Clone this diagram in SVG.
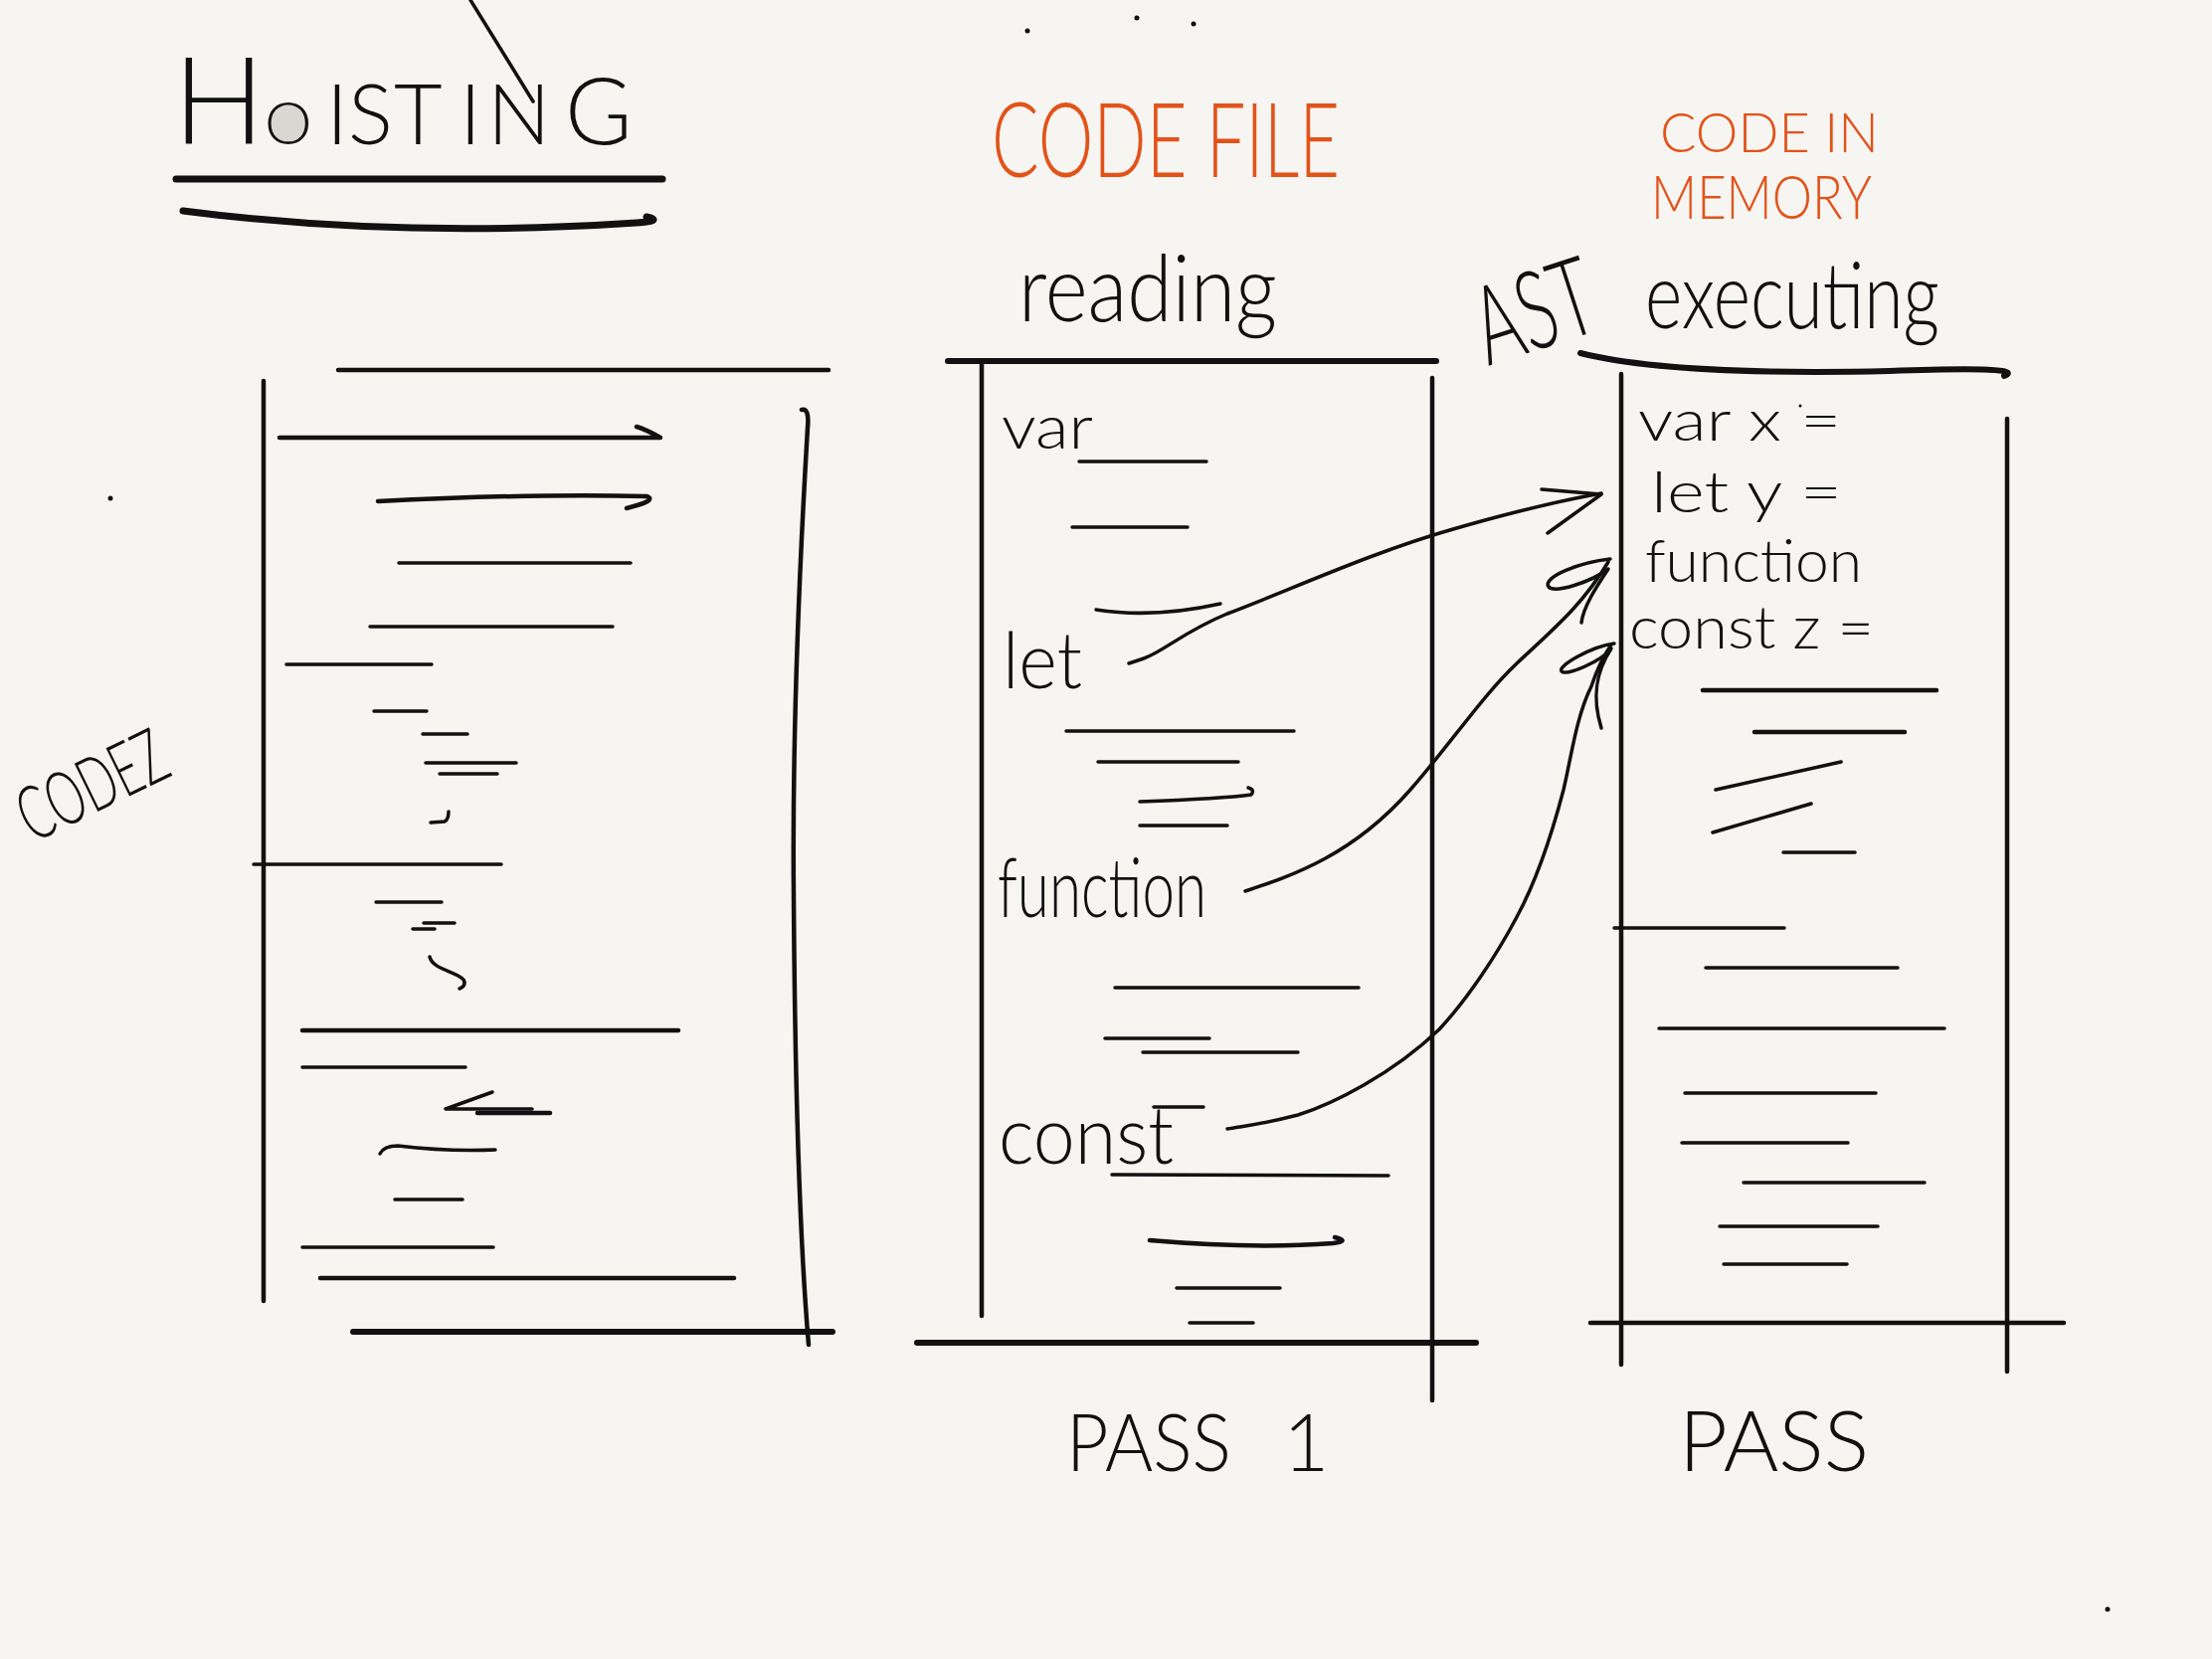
<svg xmlns="http://www.w3.org/2000/svg" width="2224" height="1668" viewBox="0 0 2224 1668">
<style>
.ink{fill:none;stroke:#111;stroke-linecap:round;stroke-linejoin:round}
.w4{stroke-width:4.5}
.w3{stroke-width:3.5}
.w6{stroke-width:6}
.t{font-family:Lato,"Open Sans","Liberation Sans",sans-serif;font-weight:300;fill:#111}
.o{font-family:Lato,"Open Sans","Liberation Sans",sans-serif;font-weight:300;fill:#e2531a}
.dot{fill:#111}
</style>
<rect width="2224" height="1668" fill="#f6f5f1"/>

<g id="title">
<line class="ink w3" x1="473" y1="0" x2="536" y2="102"/>
<ellipse cx="292" cy="124" rx="19" ry="20" fill="#d8d7d2"/>
<text class="t" y="145" font-size="84"><tspan x="174" font-size="122">H</tspan><tspan x="266" font-size="60">O</tspan><tspan x="328">I</tspan><tspan x="350">S</tspan><tspan x="396">T</tspan><tspan x="462">I</tspan><tspan x="490">N</tspan><tspan x="568" font-size="92">G</tspan></text>
<path class="ink" stroke-width="7" d="M177,180 L666,180"/>
<path class="ink" stroke-width="7" d="M184,212 Q400,240 640,224 Q668,222 650,218"/>
</g>

<g id="codez-label">
<text class="t" x="33" y="848" font-size="76" font-weight="400" textLength="158" lengthAdjust="spacingAndGlyphs" transform="rotate(-26 33 848)">CODEZ</text>
</g>

<g id="code-block">
<line class="ink w4" x1="265" y1="383" x2="265" y2="1308"/>
<line class="ink w4" x1="340" y1="372" x2="833" y2="372"/>
<path class="ink w4" d="M806,412 Q814,410 812,430 Q796,700 798,900 Q800,1200 813,1352"/>
<line class="ink w6" x1="355" y1="1339" x2="837" y2="1339"/>
<path class="ink w4" d="M281,440 L664,440 Q650,432 640,429"/>
<path class="ink w4" d="M380,504 Q540,496 650,499 Q662,503 630,511"/>
<line class="ink w3" x1="401" y1="566" x2="634" y2="566"/>
<line class="ink w3" x1="372" y1="630" x2="616" y2="630"/>
<line class="ink w3" x1="288" y1="668" x2="434" y2="668"/>
<line class="ink w3" x1="376" y1="715" x2="429" y2="715"/>
<line class="ink w3" x1="425" y1="738" x2="470" y2="738"/>
<line class="ink w3" x1="428" y1="767" x2="519" y2="767"/>
<line class="ink w3" x1="442" y1="778" x2="500" y2="778"/>
<path class="ink w3" d="M433,827 L447,826 Q451,824 451,816"/>
<line class="ink w3" x1="255" y1="869" x2="504" y2="869"/>
<line class="ink w3" x1="378" y1="907" x2="444" y2="907"/>
<line class="ink w3" x1="426" y1="928" x2="457" y2="928"/>
<line class="ink w3" x1="415" y1="934" x2="437" y2="934"/>
<path class="ink w3" d="M432,962 C435,975 460,977 466,985 C469,990 465,993 462,994"/>
<line class="ink w4" x1="304" y1="1036" x2="682" y2="1036"/>
<line class="ink w3" x1="304" y1="1073" x2="468" y2="1073"/>
<path class="ink w3" d="M495,1098 L448,1115 L535,1115"/>
<line class="ink w4" x1="480" y1="1119" x2="553" y2="1119"/>
<path class="ink w3" d="M382,1160 Q386,1152 400,1152 Q450,1158 498,1156"/>
<line class="ink w3" x1="397" y1="1206" x2="465" y2="1206"/>
<line class="ink w3" x1="304" y1="1254" x2="496" y2="1254"/>
<line class="ink w4" x1="322" y1="1285" x2="738" y2="1285"/>
</g>

<g id="code-file">
<text class="o" x="997" y="178" font-size="104" textLength="350" lengthAdjust="spacingAndGlyphs">CODE FILE</text>
<text class="t" x="1024" y="323" font-size="92" textLength="260" lengthAdjust="spacingAndGlyphs">reading</text>
<line class="ink w6" x1="953" y1="363" x2="1444" y2="363"/>
<line class="ink w4" x1="987" y1="366" x2="987" y2="1323"/>
<line class="ink w4" x1="1440" y1="380" x2="1440" y2="1408"/>
<line class="ink w6" x1="922" y1="1350" x2="1484" y2="1350"/>
<text class="t" x="1007" y="451" font-size="62" textLength="92" lengthAdjust="spacingAndGlyphs">var</text>
<line class="ink w3" x1="1085" y1="464" x2="1213" y2="464"/>
<line class="ink w3" x1="1078" y1="530" x2="1194" y2="530"/>
<path class="ink w3" d="M1102,613 Q1160,622 1227,607"/>
<text class="t" x="1008" y="692" font-size="78" textLength="80" lengthAdjust="spacingAndGlyphs">let</text>
<line class="ink w3" x1="1072" y1="735" x2="1301" y2="735"/>
<line class="ink w3" x1="1104" y1="766" x2="1245" y2="766"/>
<path class="ink w3" d="M1146,806 Q1230,803 1258,799 Q1262,794 1255,792"/>
<line class="ink w3" x1="1146" y1="830" x2="1234" y2="830"/>
<text class="t" x="1003" y="922" font-size="82" textLength="210" lengthAdjust="spacingAndGlyphs">function</text>
<line class="ink w3" x1="1121" y1="993" x2="1366" y2="993"/>
<line class="ink w3" x1="1111" y1="1044" x2="1216" y2="1044"/>
<line class="ink w3" x1="1149" y1="1058" x2="1305" y2="1058"/>
<text class="t" x="1004" y="1170" font-size="80" textLength="176" lengthAdjust="spacingAndGlyphs">const</text>
<line class="ink w3" x1="1160" y1="1113" x2="1210" y2="1113"/>
<line class="ink w3" x1="1118" y1="1181" x2="1396" y2="1182"/>
<path class="ink w4" d="M1156,1247 Q1260,1256 1340,1250 Q1358,1248 1342,1244"/>
<line class="ink w3" x1="1183" y1="1295" x2="1287" y2="1295"/>
<line class="ink w3" x1="1196" y1="1330" x2="1260" y2="1330"/>
<text class="t" y="1479" font-size="80"><tspan x="1072" textLength="166" lengthAdjust="spacingAndGlyphs">PASS</tspan> <tspan x="1290">1</tspan></text>
</g>

<g id="ast-label">
<text class="t" x="1496" y="368" font-size="110" textLength="122" lengthAdjust="spacingAndGlyphs" transform="rotate(-18 1496 368)">AST</text>
</g>

<g id="code-in-memory">
<text class="o" x="1669" y="153" font-size="56" textLength="220" lengthAdjust="spacingAndGlyphs">CODE IN</text>
<text class="o" x="1660" y="220" font-size="62" textLength="222" lengthAdjust="spacingAndGlyphs">MEMORY</text>
<text class="t" x="1654" y="330" font-size="92" textLength="296" lengthAdjust="spacingAndGlyphs">executing</text>
<path class="ink w6" d="M1589,355 Q1680,378 1900,373 Q2040,368 2015,378"/>
<line class="ink w4" x1="1630" y1="376" x2="1630" y2="1372"/>
<line class="ink w4" x1="2018" y1="421" x2="2018" y2="1379"/>
<line class="ink w4" x1="1599" y1="1330" x2="2075" y2="1330"/>
<text class="t" x="1647" y="443" font-size="58" textLength="204" lengthAdjust="spacingAndGlyphs">var x =</text>
<text class="t" x="1660" y="515" font-size="58" textLength="192" lengthAdjust="spacingAndGlyphs">let y =</text>
<text class="t" x="1654" y="585" font-size="60" textLength="218" lengthAdjust="spacingAndGlyphs">function</text>
<text class="t" x="1638" y="652" font-size="60" textLength="246" lengthAdjust="spacingAndGlyphs">const z =</text>
<line class="ink w4" x1="1712" y1="694" x2="1947" y2="694"/>
<line class="ink w4" x1="1764" y1="736" x2="1915" y2="736"/>
<line class="ink w3" x1="1725" y1="794" x2="1851" y2="766"/>
<line class="ink w3" x1="1722" y1="837" x2="1821" y2="808"/>
<line class="ink w3" x1="1793" y1="857" x2="1865" y2="857"/>
<line class="ink w3" x1="1623" y1="933" x2="1794" y2="933"/>
<line class="ink w3" x1="1715" y1="973" x2="1908" y2="973"/>
<line class="ink w3" x1="1668" y1="1034" x2="1955" y2="1034"/>
<line class="ink w3" x1="1694" y1="1099" x2="1886" y2="1099"/>
<line class="ink w3" x1="1691" y1="1149" x2="1858" y2="1149"/>
<line class="ink w3" x1="1753" y1="1189" x2="1935" y2="1189"/>
<line class="ink w3" x1="1729" y1="1233" x2="1888" y2="1233"/>
<line class="ink w3" x1="1733" y1="1271" x2="1857" y2="1271"/>
<text class="t" x="1688" y="1479" font-size="84" textLength="191" lengthAdjust="spacingAndGlyphs">PASS</text>
</g>

<g id="connectors">
<path class="ink w3" d="M1135,667 L1150,662 C1170,655 1190,635 1234,617 C1300,592 1380,555 1461,532 C1520,515 1560,505 1610,496"/>
<path class="ink w3" d="M1550,492 L1610,497 L1556,536"/>
<path class="ink w3" d="M1252,896 C1300,880 1360,860 1418,794 C1460,746 1490,700 1525,667 C1560,634 1590,610 1617,565"/>
<path class="ink w3" d="M1619,562 C1590,565 1550,580 1557,590 C1563,597 1600,585 1617,572 C1605,590 1592,610 1590,626"/>
<path class="ink w3" d="M1234,1135 C1250,1132 1262,1132 1305,1121 C1340,1110 1400,1080 1447,1035 C1475,1005 1505,960 1525,922 C1545,885 1560,840 1572,794 C1580,760 1585,720 1600,690 C1605,675 1612,660 1620,648"/>
<path class="ink w3" d="M1623,647 C1600,650 1565,670 1570,675 C1575,680 1610,665 1620,652 C1605,675 1600,700 1610,732"/>
</g>

<g id="dots">
<circle class="dot" cx="1033" cy="31" r="2.5"/>
<circle class="dot" cx="1143" cy="18" r="2.5"/>
<circle class="dot" cx="1200" cy="24" r="2.5"/>
<circle class="dot" cx="111" cy="501" r="2.5"/>
<circle class="dot" cx="2119" cy="1618" r="2.5"/>
<circle class="dot" cx="1810" cy="408" r="1.5"/>
</g>
</svg>
